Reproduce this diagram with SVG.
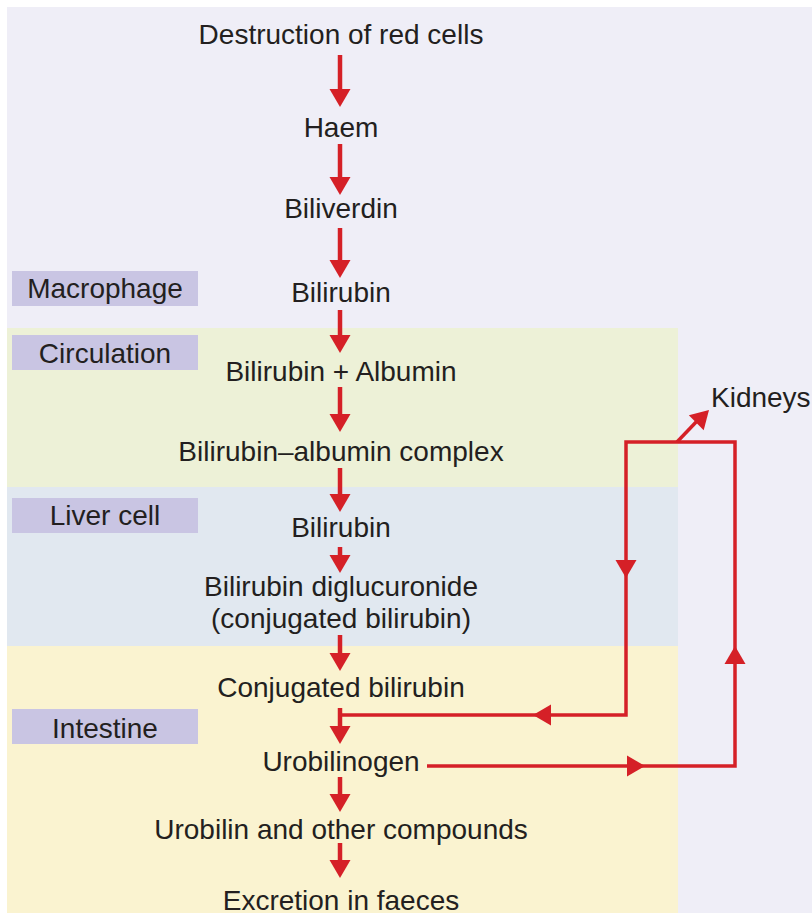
<svg xmlns="http://www.w3.org/2000/svg" xmlns:xlink="http://www.w3.org/1999/xlink" width="812" height="915" viewBox="0 0 812 915">
<style>
.t{font-family:"Liberation Sans",Arial,sans-serif;font-size:28px;fill:#231f20;text-anchor:middle}
.lb{fill:#c9c5e3}
.sh{stroke:#d52027;stroke-width:4.5;fill:none}
.lp{stroke:#d52027;stroke-width:3.5;fill:none}
.ah{fill:#d52027}
</style>
<defs>
<path id="ah" d="M0,0 L-18,-10.5 L-18,10.5 Z"/>
</defs>
<rect x="0" y="0" width="812" height="915" fill="#ffffff"/>
<rect x="7" y="7" width="805" height="906" fill="#efeef7"/>
<rect x="7" y="328" width="671" height="159" fill="#edf1d7"/>
<rect x="7" y="487" width="671" height="159" fill="#e1e8f0"/>
<rect x="7" y="646" width="671" height="267" fill="#faf3d0"/>

<g id="label-macrophage"><rect class="lb" x="12" y="271" width="186" height="35"/><text class="t" x="105" y="298">Macrophage</text></g>
<g id="label-circulation"><rect class="lb" x="12" y="335" width="186" height="35"/><text class="t" x="105" y="363">Circulation</text></g>
<g id="label-liver"><rect class="lb" x="12" y="498" width="186" height="35"/><text class="t" x="105" y="525">Liver cell</text></g>
<g id="label-intestine"><rect class="lb" x="12" y="709" width="186" height="35"/><text class="t" x="105" y="738">Intestine</text></g>

<g id="n-destruction"><text class="t" x="341" y="44">Destruction of red cells</text></g>
<g id="n-haem"><text class="t" x="341" y="137">Haem</text></g>
<g id="n-biliverdin"><text class="t" x="341" y="218">Biliverdin</text></g>
<g id="n-bilirubin1"><text class="t" x="341" y="302">Bilirubin</text></g>
<g id="n-bilialb"><text class="t" x="341" y="381">Bilirubin + Albumin</text></g>
<g id="n-complex"><text class="t" x="341" y="461">Bilirubin–albumin complex</text></g>
<g id="n-bilirubin2"><text class="t" x="341" y="537">Bilirubin</text></g>
<g id="n-digluc"><text class="t" x="341" y="596">Bilirubin diglucuronide</text><text class="t" x="341" y="628">(conjugated bilirubin)</text></g>
<g id="n-conj"><text class="t" x="341" y="697">Conjugated bilirubin</text></g>
<g id="n-urobilinogen"><text class="t" x="341" y="771">Urobilinogen</text></g>
<g id="n-urobilin"><text class="t" x="341" y="839">Urobilin and other compounds</text></g>
<g id="n-faeces"><text class="t" x="341" y="910">Excretion in faeces</text></g>
<g id="n-kidneys"><text class="t" x="711" y="407" style="text-anchor:start">Kidneys</text></g>

<g id="connectors">
<line class="sh" x1="340" y1="55" x2="340" y2="90"/><use xlink:href="#ah" class="ah" transform="translate(340,107) rotate(90)"/>
<line class="sh" x1="340" y1="144" x2="340" y2="178"/><use xlink:href="#ah" class="ah" transform="translate(340,195) rotate(90)"/>
<line class="sh" x1="340" y1="228" x2="340" y2="261"/><use xlink:href="#ah" class="ah" transform="translate(340,278) rotate(90)"/>
<line class="sh" x1="340" y1="310" x2="340" y2="336"/><use xlink:href="#ah" class="ah" transform="translate(340,353) rotate(90)"/>
<line class="sh" x1="340" y1="387" x2="340" y2="415"/><use xlink:href="#ah" class="ah" transform="translate(340,432) rotate(90)"/>
<line class="sh" x1="340" y1="468" x2="340" y2="495"/><use xlink:href="#ah" class="ah" transform="translate(340,512) rotate(90)"/>
<line class="sh" x1="340" y1="547" x2="340" y2="556"/><use xlink:href="#ah" class="ah" transform="translate(340,573) rotate(90)"/>
<line class="sh" x1="340" y1="635" x2="340" y2="654"/><use xlink:href="#ah" class="ah" transform="translate(340,671) rotate(90)"/>
<line class="sh" x1="340" y1="708" x2="340" y2="727"/><use xlink:href="#ah" class="ah" transform="translate(340,744) rotate(90)"/>
<line class="sh" x1="340" y1="777" x2="340" y2="795"/><use xlink:href="#ah" class="ah" transform="translate(340,812) rotate(90)"/>
<line class="sh" x1="340" y1="843" x2="340" y2="861"/><use xlink:href="#ah" class="ah" transform="translate(340,878) rotate(90)"/>

<polyline class="lp" points="338,715 626,715 626,442 735,442 735,766 427,766"/>
<use xlink:href="#ah" class="ah" transform="translate(626,578) rotate(90)"/>
<use xlink:href="#ah" class="ah" transform="translate(533,715) rotate(180)"/>
<use xlink:href="#ah" class="ah" transform="translate(645,766)"/>
<use xlink:href="#ah" class="ah" transform="translate(735,646) rotate(-90)"/>
<line class="lp" x1="677" y1="442" x2="698" y2="420"/>
<use xlink:href="#ah" class="ah" transform="translate(709,410) rotate(-45)"/>
</g>
</svg>
